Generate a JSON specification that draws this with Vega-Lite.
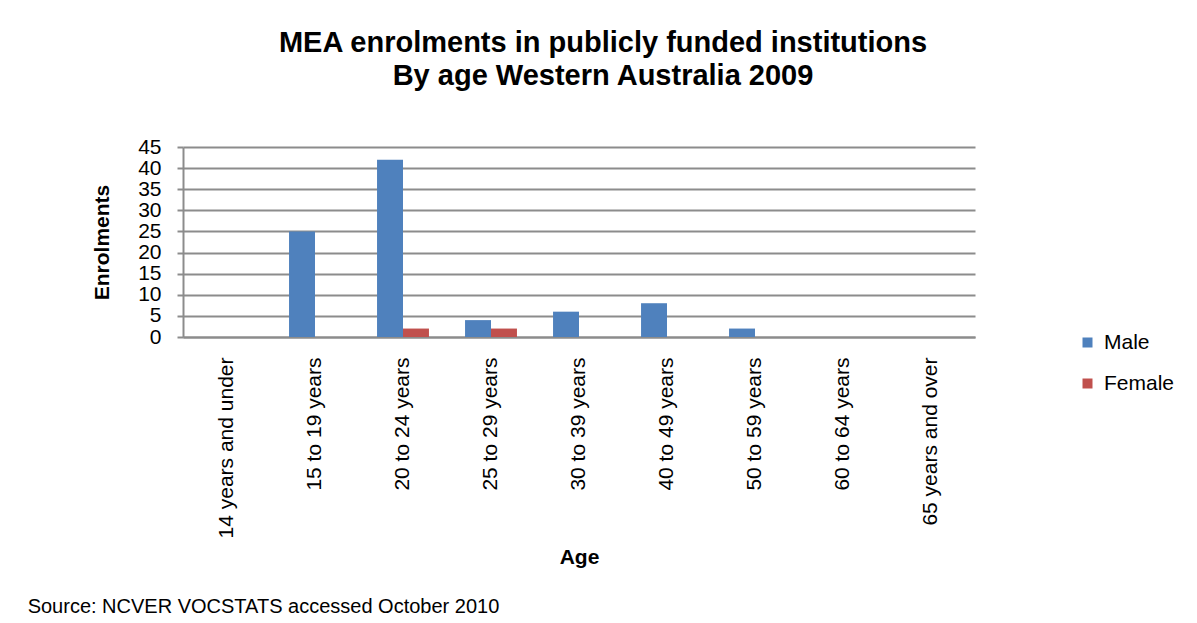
{
  "$schema": "https://vega.github.io/schema/vega-lite/v6.json",
  "background": "white",
  "padding": {"left": 27, "top": 29, "right": 0, "bottom": 0},
  "config": {"font": "Liberation Sans", "view": {"stroke": null}},
  "title": {"text": "Source: NCVER  VOCSTATS accessed October 2010", "orient": "bottom", "anchor": "start", "font": "Liberation Sans", "fontSize": 20, "fontWeight": "normal", "color": "#000000", "offset": 30, "dx": -64},
  "vconcat": [
    {
      "width": 792,
      "height": 190,
      "title": {"text": ["MEA enrolments in publicly funded institutions", "By age Western Australia 2009"], "font": "Liberation Sans", "fontSize": 29, "fontWeight": "bold", "color": "#000000", "anchor": "middle", "dx": 24, "lineHeight": 33, "offset": 45},
      "data": {"values": [
        {"age": "14 years and under", "sex": "Male", "enrolments": 0},
        {"age": "14 years and under", "sex": "Female", "enrolments": 0},
        {"age": "15 to 19 years", "sex": "Male", "enrolments": 25},
        {"age": "15 to 19 years", "sex": "Female", "enrolments": 0},
        {"age": "20 to 24 years", "sex": "Male", "enrolments": 42},
        {"age": "20 to 24 years", "sex": "Female", "enrolments": 2},
        {"age": "25 to 29 years", "sex": "Male", "enrolments": 4},
        {"age": "25 to 29 years", "sex": "Female", "enrolments": 2},
        {"age": "30 to 39 years", "sex": "Male", "enrolments": 6},
        {"age": "30 to 39 years", "sex": "Female", "enrolments": 0},
        {"age": "40 to 49 years", "sex": "Male", "enrolments": 8},
        {"age": "40 to 49 years", "sex": "Female", "enrolments": 0},
        {"age": "50 to 59 years", "sex": "Male", "enrolments": 2},
        {"age": "50 to 59 years", "sex": "Female", "enrolments": 0},
        {"age": "60 to 64 years", "sex": "Male", "enrolments": 0},
        {"age": "60 to 64 years", "sex": "Female", "enrolments": 0},
        {"age": "65 years and over", "sex": "Male", "enrolments": 0},
        {"age": "65 years and over", "sex": "Female", "enrolments": 0}
      ]},
      "mark": {"type": "bar"},
      "encoding": {
        "x": {
          "field": "age", "type": "nominal", "sort": null,
          "scale": {"paddingInner": 0.41, "paddingOuter": 0.205},
          "axis": {"title": "Age", "titleFontSize": 21, "titleFontWeight": "bold", "titleColor": "#000000", "titlePadding": 9,
                   "labelAngle": 270, "labelFontSize": 21, "labelColor": "#000000", "labelPadding": 20, "labelLimit": 300,
                   "ticks": false, "domainColor": "#8c8c8c", "domainWidth": 2}
        },
        "xOffset": {"field": "sex", "type": "nominal", "sort": ["Male", "Female"]},
        "y": {
          "field": "enrolments", "type": "quantitative",
          "scale": {"domain": [0, 45], "nice": false},
          "axis": {"title": "Enrolments", "titleFontSize": 21, "titleFontWeight": "bold", "titleColor": "#000000", "titlePadding": 25,
                   "values": [0, 5, 10, 15, 20, 25, 30, 35, 40, 45], "labelFontSize": 21, "labelColor": "#000000", "labelPadding": 16,
                   "tickColor": "#8c8c8c", "tickSize": 6, "tickWidth": 2, "domainColor": "#8c8c8c", "domainWidth": 2,
                   "grid": true, "gridColor": "#8c8c8c", "gridWidth": 2}
        },
        "color": {
          "field": "sex", "type": "nominal",
          "scale": {"domain": ["Male", "Female"], "range": ["#4F81BD", "#C0504D"]},
          "legend": {"title": null, "orient": "none", "legendX": 894, "legendY": 185, "symbolType": "square", "symbolSize": 100,
                     "labelFontSize": 21, "labelColor": "#000000", "labelOffset": 6, "rowPadding": 19, "symbolStrokeWidth": 0}
        }
      }
    }
  ]
}
